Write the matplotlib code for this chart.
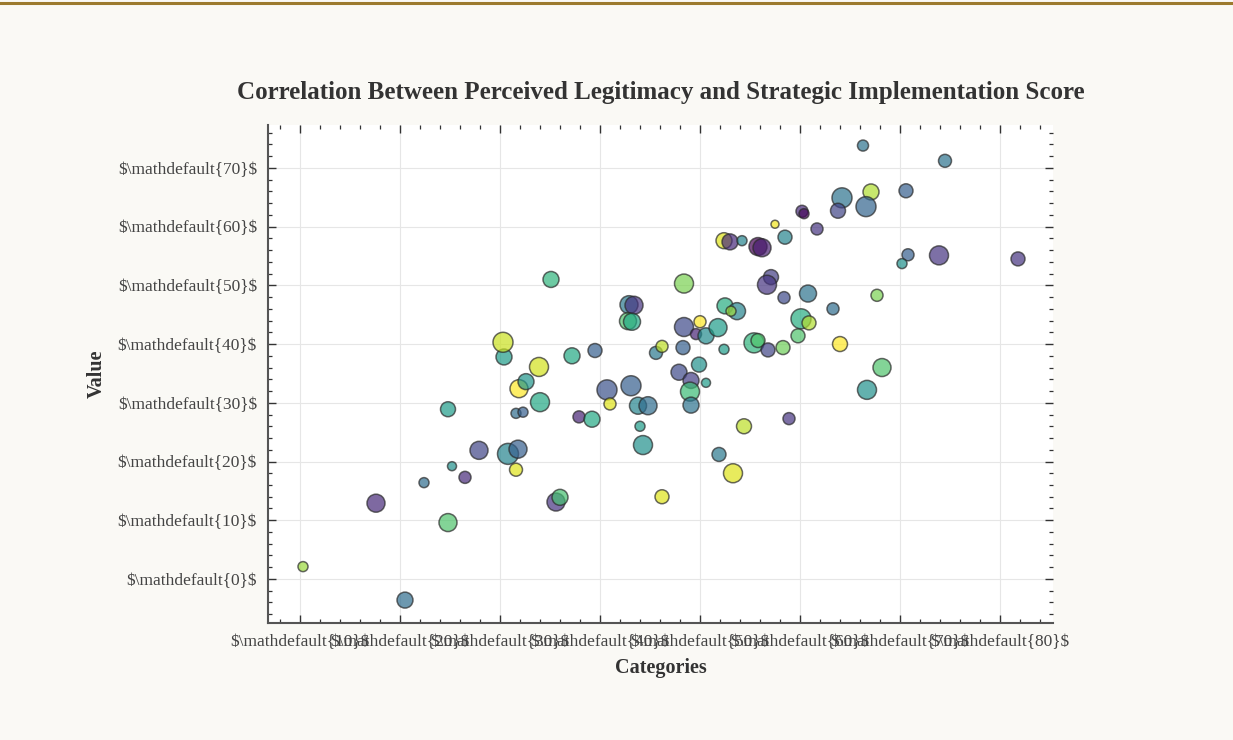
import matplotlib
matplotlib.use("Agg")
import matplotlib.pyplot as plt
from matplotlib.ticker import FixedLocator, AutoMinorLocator, FuncFormatter
from matplotlib.lines import Line2D
import numpy as np

# ---- data ----
x_vals = [10.3, 20.5, 17.6, 24.8, 22.4, 25.2, 26.5, 27.9, 24.8, 30.8,
          31.8, 31.6, 31.6, 32.3, 34.0, 31.9, 32.6, 30.4, 30.3, 33.9,
          37.2, 39.5, 35.1, 35.6, 36.0, 37.9, 39.2, 40.7, 43.1, 41.0,
          44.0, 44.3, 43.8, 44.8, 46.2, 45.6, 46.2, 42.9, 43.4, 42.8,
          43.2, 48.4, 66.3, 74.5, 64.2, 67.1, 70.6, 66.6, 63.8, 60.2,
          60.4, 61.7, 57.5, 58.5, 52.4, 53.0, 54.2, 55.8, 56.2, 70.8,
          70.2, 73.9, 81.8, 57.1, 56.7, 58.4, 60.8, 63.3, 67.7, 52.5,
          53.7, 53.1, 48.4, 50.0, 49.6, 50.6, 51.8, 52.4, 55.4, 55.8,
          56.8, 58.3, 60.1, 60.9, 59.8, 64.0, 68.2, 48.3, 47.9, 49.1,
          49.9, 50.6, 49.0, 49.1, 51.9, 54.4, 53.3, 58.9, 66.7]
y_vals = [2.1, -3.6, 12.9, 9.6, 16.4, 19.2, 17.3, 21.9, 28.9, 21.3,
          22.1, 18.6, 28.2, 28.4, 30.1, 32.4, 33.6, 37.8, 40.3, 36.1,
          38.0, 38.9, 51.0, 13.1, 13.9, 27.6, 27.2, 32.2, 32.9, 29.8,
          26.0, 22.8, 29.5, 29.5, 14.0, 38.5, 39.6, 46.7, 46.6, 43.9,
          43.8, 50.3, 73.8, 71.2, 64.9, 65.9, 66.1, 63.4, 62.7, 62.6,
          62.2, 59.6, 60.4, 58.2, 57.6, 57.4, 57.6, 56.6, 56.4, 55.2,
          53.7, 55.1, 54.5, 51.4, 50.1, 47.9, 48.6, 46.0, 48.3, 46.5,
          45.6, 45.6, 42.9, 43.8, 41.7, 41.4, 42.8, 39.1, 40.2, 40.6,
          39.0, 39.4, 44.3, 43.6, 41.4, 40.0, 36.0, 39.4, 35.2, 33.8,
          36.5, 33.4, 31.9, 29.6, 21.2, 26.0, 18.0, 27.3, 32.2]
color_vals = [0.85, 0.35, 0.12, 0.72, 0.35, 0.50, 0.12, 0.20, 0.55, 0.45,
              0.30, 0.95, 0.35, 0.30, 0.60, 1.00, 0.52, 0.55, 0.92, 0.93,
              0.60, 0.30, 0.65, 0.15, 0.70, 0.10, 0.60, 0.25, 0.30, 0.95,
              0.55, 0.50, 0.45, 0.35, 0.95, 0.40, 0.90, 0.40, 0.15, 0.72,
              0.60, 0.80, 0.38, 0.38, 0.38, 0.88, 0.30, 0.32, 0.20, 0.12,
              0.02, 0.15, 0.98, 0.45, 0.95, 0.12, 0.45, 0.00, 0.08, 0.30,
              0.50, 0.15, 0.15, 0.18, 0.15, 0.22, 0.38, 0.35, 0.80, 0.62,
              0.45, 0.85, 0.22, 1.00, 0.10, 0.48, 0.55, 0.55, 0.65, 0.72,
              0.20, 0.78, 0.62, 0.88, 0.72, 1.00, 0.72, 0.30, 0.22, 0.18,
              0.50, 0.55, 0.68, 0.38, 0.40, 0.90, 0.95, 0.15, 0.50]
size_vals = [52, 132, 168, 168, 52, 42, 75, 168, 116, 228,
             168, 87, 52, 52, 187, 168, 132, 132, 207, 187,
             132, 101, 132, 168, 132, 75, 132, 207, 207, 75,
             52, 187, 150, 168, 101, 87, 75, 168, 168, 150,
             150, 187, 63, 87, 207, 132, 101, 207, 116, 75,
             52, 75, 33, 101, 132, 132, 52, 168, 168, 75,
             52, 187, 101, 116, 187, 75, 150, 75, 75, 132,
             150, 52, 187, 75, 63, 132, 168, 52, 207, 101,
             101, 101, 207, 101, 101, 116, 168, 101, 132, 132,
             116, 42, 187, 132, 101, 116, 187, 75, 187]

x_ticks = [10, 20, 30, 40, 50, 60, 70, 80]
y_ticks = [0, 10, 20, 30, 40, 50, 60, 70]

title = "Correlation Between Perceived Legitimacy and Strategic Implementation Score"
xlabel = "Categories"
ylabel = "Value"

# ---- style ----
plt.rcParams['font.family'] = ['Liberation Serif', 'DejaVu Serif']
fig = plt.figure(figsize=(12.33, 7.4), dpi=100, facecolor='#faf9f5')
fig.add_artist(Line2D([0, 1], [1 - 2.5 / 740] * 2, color='#9c7a2e', lw=2.2,
                      transform=fig.transFigure))

ax = fig.add_axes([268 / 1233, 1 - 623 / 740, (1053 - 268) / 1233, (623 - 125) / 740])
ax.set_facecolor('white')

ax.scatter(x_vals, y_vals, s=size_vals, c=color_vals, cmap='viridis', vmin=0, vmax=1,
           alpha=0.7, edgecolors='#2a2a2a', linewidths=1.1, zorder=3)

ax.set_xlim(6.8, 85.3)
ax.set_ylim(-7.5, 77.3)

ax.xaxis.set_major_locator(FixedLocator(x_ticks))
ax.yaxis.set_major_locator(FixedLocator(y_ticks))
ax.xaxis.set_minor_locator(AutoMinorLocator(5))
ax.yaxis.set_minor_locator(AutoMinorLocator(5))
fmt = FuncFormatter(lambda v, p: r"\$\mathdefault{%d}\$" % int(round(v)))
ax.xaxis.set_major_formatter(fmt)
ax.yaxis.set_major_formatter(fmt)

ax.tick_params(which='both', direction='in', top=True, right=True, colors='#333333',
               labelcolor='#444444', labelsize=12.5)
ax.tick_params(which='major', length=6, width=1.0, pad=8)
ax.tick_params(which='minor', length=3, width=0.9)

for s in ['top', 'right']:
    ax.spines[s].set_visible(False)
for s in ['left', 'bottom']:
    ax.spines[s].set_color('#555555')
    ax.spines[s].set_linewidth(1.5)

ax.grid(True, which='major', color='#e6e6e6', linewidth=0.8, zorder=0)
ax.set_axisbelow(True)

ax.set_title(title, fontsize=18, fontweight='bold', color='#333333', pad=19)
ax.set_xlabel(xlabel, fontsize=14.5, fontweight='bold', color='#333333', labelpad=6)
ax.set_ylabel(ylabel, fontsize=14.5, fontweight='bold', color='#333333', labelpad=8)

fig.savefig('out.png', dpi=100, facecolor=fig.get_facecolor())
